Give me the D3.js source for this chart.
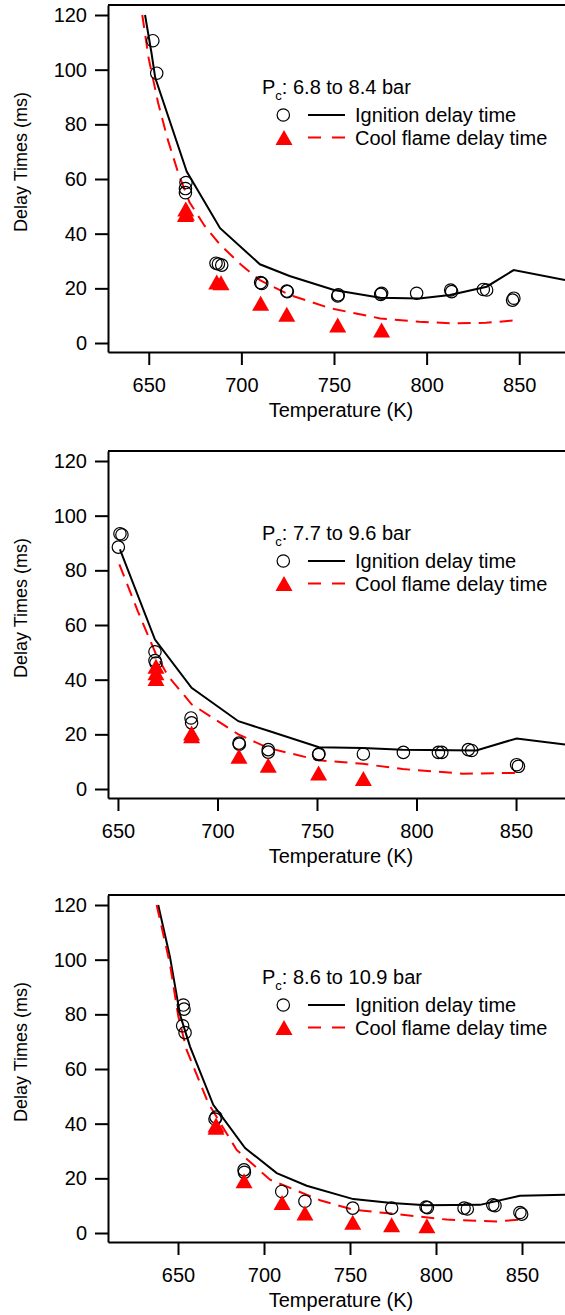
<!DOCTYPE html>
<html>
<head>
<meta charset="utf-8">
<script src="https://cdn.jsdelivr.net/npm/d3@7"></script>
<style>
  body { margin: 0; background: #fff; }
  svg { display: block; font-family: "Liberation Sans", Arial, sans-serif; }
</style>
</head>
<body>
<svg id="chart" width="565" height="1315"></svg>
<script>
// ---- data: [temperature K, delay ms] ----
var pressureLabels = ["6.8 to 8.4 bar", "7.7 to 9.6 bar", "8.6 to 10.9 bar"];
var tempTicks = [650, 700, 750, 800, 850];
var delayTicks = [0, 20, 40, 60, 80, 100, 120];
var delayDomain = [-3.29, 123.66];
var tempDomains = [[628, 874.7], [645, 874.6], [609.3, 875]];

var ign1Exp = [[652.2, 110.6], [654.3, 98.7], [670.1, 58.7], [669.8, 56.5], [669.8, 55],
  [686.3, 29.2], [687.6, 28.9], [689.4, 28.5], [710.4, 22.1], [711, 21.8],
  [724.5, 19.0], [724.8, 18.8], [752.3, 17.6], [752, 17.2], [775.7, 18.2], [775.2, 17.8],
  [794.6, 18.2], [813.0, 19.4], [813.5, 18.8], [830.6, 19.6], [832.4, 19.4],
  [846.4, 15.7], [847.1, 16.4]];
var cool1Exp = [[670, 49], [670.3, 47.5], [669.8, 47], [686.7, 22.3], [689, 22],
  [710.4, 14.5], [724.5, 10.5], [752, 6.6], [775.7, 4.8]];
var ign1Sim = [[648, 120], [651.5, 106], [653.5, 97], [670.5, 62.7], [688.5, 42],
  [710, 28.8], [726, 24.5], [750, 19.4], [775, 16.6], [796, 16.3], [812.6, 17.6],
  [832.4, 20.6], [847, 26.7], [874.7, 23]];
var cool1Sim = [[646.5, 120], [650, 104], [655, 88], [660, 75], [666, 62], [672, 51.5],
  [680, 43], [688.5, 36], [700, 28.5], [710, 23], [726, 17.6], [748, 12.7], [775, 9.0],
  [796, 7.8], [814, 7.2], [832, 7.4], [846.4, 8.2]];

var ign2Exp = [[651, 93.4], [652, 93], [650.2, 88.5], [668.6, 50.2], [668.6, 47],
  [669.1, 46.1], [686.7, 26], [687, 24.2], [710.8, 16.8], [711, 16.4], [725.5, 14.4],
  [725.5, 13.5], [750.8, 12.6], [751, 12.9], [773.3, 12.8], [793.4, 13.4], [811, 13.4],
  [812.7, 13.4], [826, 14.4], [827.7, 14.1], [850.3, 8.9], [851.2, 8.3]];
var cool2Exp = [[669.1, 44.9], [669.1, 42.5], [669.1, 40.4], [687, 20.5], [687, 19.5],
  [710.8, 12], [725.5, 8.7], [750.8, 5.9], [773.3, 3.8]];
var ign2Sim = [[651, 87.7], [668.6, 54.7], [687, 37], [710.5, 24.8], [725.5, 21.3],
  [751, 15.3], [773, 15], [793, 14.4], [830, 14.1], [850.3, 18.5], [874.6, 16.3]];
var cool2Sim = [[650.7, 82.2], [660, 65], [669, 49.5], [675, 41.5], [687, 31],
  [710.5, 20], [725.5, 15], [751, 10.5], [773, 9.2], [793, 7.3], [823.5, 5.6],
  [849.7, 5.9]];

var ign3Exp = [[653.1, 83.4], [653.5, 81.9], [652.7, 75.8], [654.1, 73.3], [671.5, 41.7],
  [672.1, 42.4], [688.4, 23.1], [688.6, 22.2], [710.3, 15.2], [723.8, 11.6],
  [751.6, 9.1], [774.2, 9.1], [794.2, 9.5], [795, 9.3], [816.3, 9.1], [818.2, 8.8],
  [833, 10.3], [834.3, 10], [848.8, 7.5], [849.8, 6.9]];
var cool3Exp = [[672.1, 39.5], [672.1, 38.7], [688.4, 19.1], [710.5, 11.2],
  [723.8, 7.3], [751.6, 3.9], [774.2, 3.0], [794.7, 2.7]];
var ign3Sim = [[638.5, 120], [645.3, 101.1], [651.2, 79.8], [657, 68.2], [670.5, 46.9],
  [689, 31.1], [707.4, 21.9], [724.8, 17.3], [751.9, 12.4], [774.2, 11], [794.2, 10.2],
  [825.6, 10.3], [848.8, 13.6], [875, 14]];
var cool3Sim = [[637.6, 120], [645.3, 98.5], [650.2, 79.2], [655, 67], [667.6, 47.5],
  [684.1, 30.4], [703.5, 19.5], [732.6, 12], [751.9, 8.5], [774.2, 7.1], [806.2, 4.9],
  [835.3, 4.2], [848.8, 4.9]];

var panels = [
  { pc: pressureLabels[0], xDomain: tempDomains[0], ignExp: ign1Exp, coolExp: cool1Exp, ignSim: ign1Sim, coolSim: cool1Sim },
  { pc: pressureLabels[1], xDomain: tempDomains[1], ignExp: ign2Exp, coolExp: cool2Exp, ignSim: ign2Sim, coolSim: cool2Sim },
  { pc: pressureLabels[2], xDomain: tempDomains[2], ignExp: ign3Exp, coolExp: cool3Exp, ignSim: ign3Sim, coolSim: cool3Sim }
];

// ---- layout ----
var left = 108,
  right = 565,
  plotH = 347,
  panelTops = [5, 451, 895];

var red = "#ff0000";
var triangle = "M0,-7.5L8.5,7.5L-8.5,7.5Z";

var svg = d3.select("#chart");

panels.forEach(function (p, i) {
  var top = panelTops[i];
  var x = d3.scaleLinear().domain(p.xDomain).range([left, right]);
  var y = d3.scaleLinear().domain(delayDomain).range([top + plotH, top]);
  var line = d3
    .line()
    .x(function (d) {
      return x(d[0]);
    })
    .y(function (d) {
      return y(d[1]);
    });

  var g = svg.append("g").attr("class", "panel");

  g.append("clipPath")
    .attr("id", "clip" + i)
    .append("rect")
    .attr("x", left)
    .attr("y", top)
    .attr("width", right - left)
    .attr("height", plotH);

  // frame top line
  g.append("line")
    .attr("x1", left)
    .attr("x2", right)
    .attr("y1", top)
    .attr("y2", top)
    .attr("stroke", "#000")
    .attr("stroke-width", 2);

  var xAxis = g
    .append("g")
    .attr("transform", "translate(0," + (top + plotH) + ")")
    .call(
      d3.axisBottom(x).tickValues(tempTicks).tickSize(13).tickSizeOuter(0).tickPadding(13)
    );
  var yAxis = g
    .append("g")
    .attr("transform", "translate(" + left + ",0)")
    .call(
      d3.axisLeft(y).tickValues(delayTicks).tickSize(13).tickSizeOuter(0).tickPadding(8)
    );
  [xAxis, yAxis].forEach(function (a) {
    a.attr("font-family", null).attr("font-size", 20);
    a.select(".domain").attr("stroke-width", 2);
    a.selectAll(".tick line").attr("stroke-width", 2);
    a.selectAll(".tick text").attr("fill", "#000");
  });

  g.append("text")
    .attr("x", 341)
    .attr("y", top + 412)
    .attr("text-anchor", "middle")
    .attr("font-size", 20)
    .text("Temperature (K)");

  g.append("text")
    .attr("transform", "translate(27," + (top + 157) + ") rotate(-90)")
    .attr("text-anchor", "middle")
    .attr("font-size", 18)
    .text("Delay Times (ms)");

  // simulations
  var plot = g.append("g").attr("clip-path", "url(#clip" + i + ")");
  plot
    .append("path")
    .datum(p.ignSim)
    .attr("d", line)
    .attr("fill", "none")
    .attr("stroke", "#000")
    .attr("stroke-width", 2);
  plot
    .append("path")
    .datum(p.coolSim)
    .attr("d", line)
    .attr("fill", "none")
    .attr("stroke", red)
    .attr("stroke-width", 2)
    .attr("stroke-dasharray", "13,8");

  // experiments
  plot
    .selectAll(".ign")
    .data(p.ignExp)
    .enter()
    .append("circle")
    .attr("class", "ign")
    .attr("cx", function (d) {
      return x(d[0]);
    })
    .attr("cy", function (d) {
      return y(d[1]);
    })
    .attr("r", 6.2)
    .attr("fill", "none")
    .attr("stroke", "#000")
    .attr("stroke-width", 1.2);
  plot
    .selectAll(".cool")
    .data(p.coolExp)
    .enter()
    .append("path")
    .attr("class", "cool")
    .attr("d", triangle)
    .attr("transform", function (d) {
      return "translate(" + x(d[0]) + "," + y(d[1]) + ")";
    })
    .attr("fill", red);

  // legend
  var leg = g.append("g").attr("font-size", 20);
  var title = leg.append("text").attr("x", 262).attr("y", top + 89);
  title.append("tspan").text("P");
  title.append("tspan").attr("font-size", 13).attr("dy", 6).text("c");
  title.append("tspan").attr("dy", -6).text(": " + p.pc);

  leg.append("circle")
    .attr("cx", 283.3)
    .attr("cy", top + 110)
    .attr("r", 6.2)
    .attr("fill", "none")
    .attr("stroke", "#000")
    .attr("stroke-width", 1.2);
  leg.append("line")
    .attr("x1", 308)
    .attr("x2", 345)
    .attr("y1", top + 110)
    .attr("y2", top + 110)
    .attr("stroke", "#000")
    .attr("stroke-width", 2);
  leg.append("text").attr("x", 355).attr("y", top + 117).text("Ignition delay time");

  leg.append("path")
    .attr("d", triangle)
    .attr("transform", "translate(284," + (top + 132.5) + ")")
    .attr("fill", red);
  leg.append("line")
    .attr("x1", 308)
    .attr("x2", 345)
    .attr("y1", top + 132.5)
    .attr("y2", top + 132.5)
    .attr("stroke", red)
    .attr("stroke-width", 2)
    .attr("stroke-dasharray", "13,11");
  leg.append("text").attr("x", 355).attr("y", top + 140).text("Cool flame delay time");
});
</script>
</body>
</html>
